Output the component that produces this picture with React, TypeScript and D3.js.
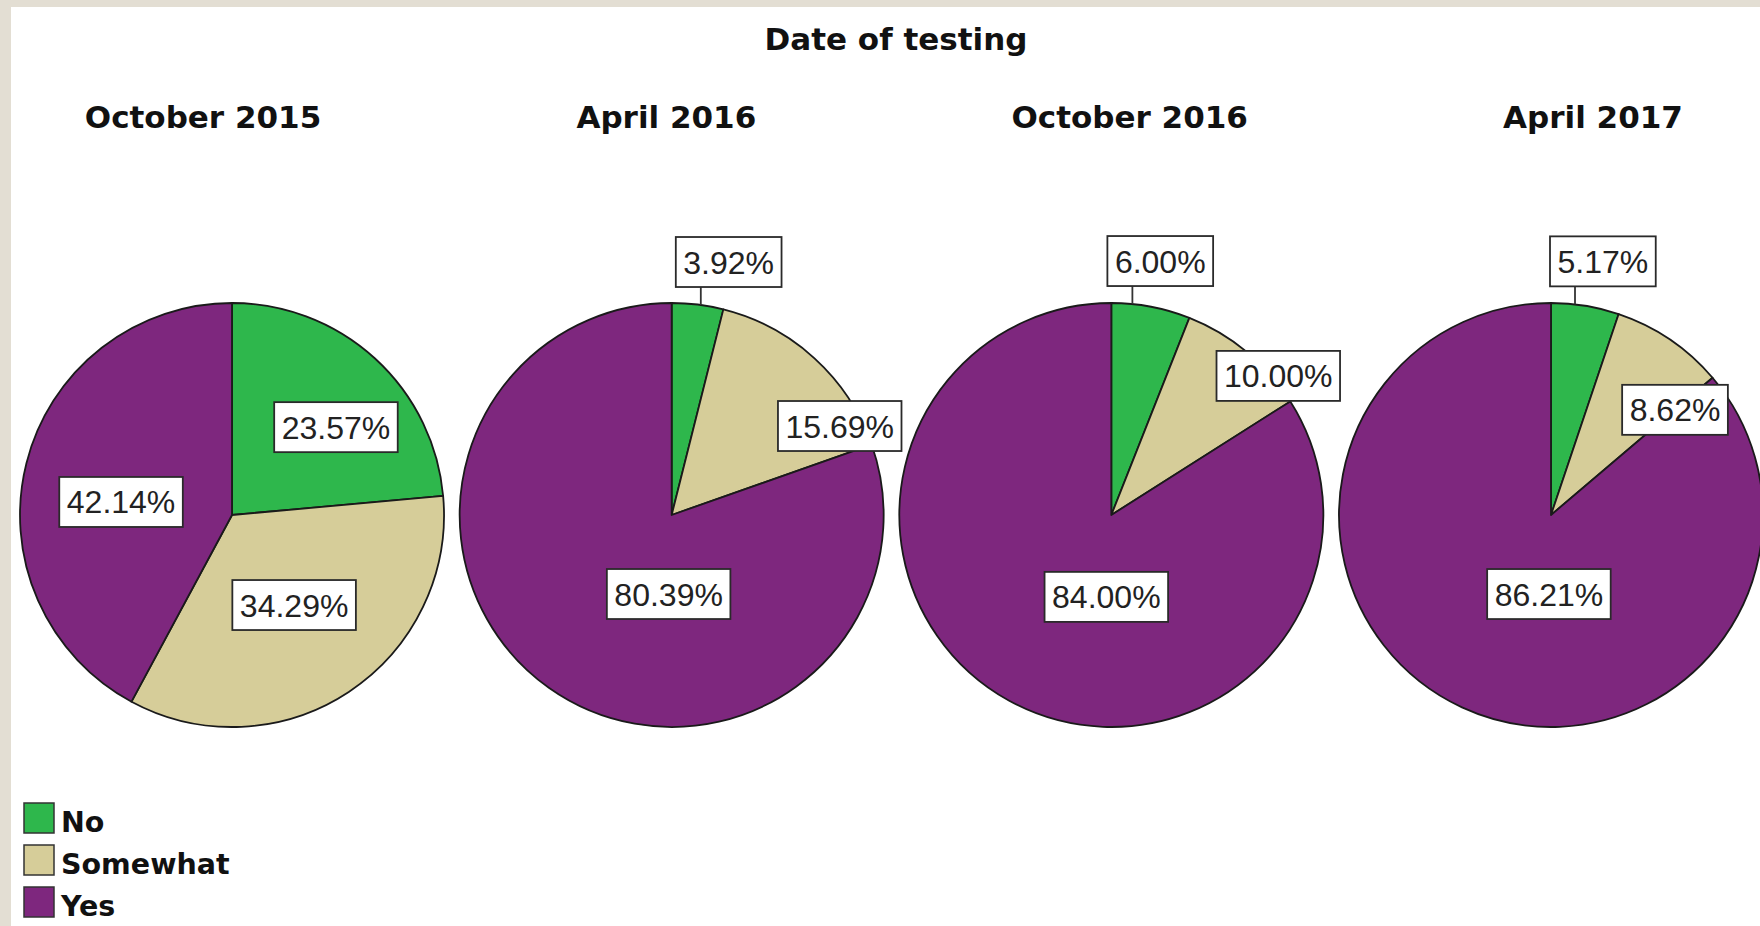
import React, { useEffect, useRef } from "react";
import * as d3 from "d3";

const dates = ["October 2015", "April 2016", "October 2016", "April 2017"];
const categories = ["No", "Somewhat", "Yes"];
const noValues = [23.57, 3.92, 6.0, 5.17];
const somewhatValues = [34.29, 15.69, 10.0, 8.62];
const yesValues = [42.14, 80.39, 84.0, 86.21];
const chartTitle = "Date of testing";

const colors = ["#2EB74C", "#D6CD99", "#7E277E"];

// label placement (polar: angle from 12 o'clock clockwise in degrees, radius fraction)
type Place = { a: number; r: number; outside?: boolean };
const labelPlacement: Place[][] = [
  [{ a: 49.8, r: 0.642 }, { a: 145.4, r: 0.516 }, { a: 276.7, r: 0.527 }],
  [{ a: 7.9, r: 1, outside: true }, { a: 62.1, r: 0.897 }, { a: 182.2, r: 0.373 }],
  [{ a: 5.7, r: 1, outside: true }, { a: 50.2, r: 1.025 }, { a: 183.5, r: 0.387 }],
  [{ a: 6.5, r: 1, outside: true }, { a: 49.7, r: 0.767 }, { a: 181.5, r: 0.373 }],
];

const W = 1760;
const H = 926;

export default function App() {
  const ref = useRef<SVGSVGElement | null>(null);

  useEffect(() => {
    const svg = d3.select(ref.current);
    svg.selectAll("*").remove();

    svg.append("rect").attr("x", 0).attr("y", 0).attr("width", W).attr("height", H).attr("fill", "#E3DED3");
    svg.append("rect").attr("x", 11).attr("y", 7).attr("width", W - 11).attr("height", H - 7).attr("fill", "#ffffff");

    const pieX = d3.scalePoint<string>().domain(dates).range([232, 1551]);
    const titleX = d3.scalePoint<string>().domain(dates).range([203, 1593]);
    const cy = 515;
    const R = 212;

    svg
      .append("text")
      .attr("x", 896)
      .attr("y", 50)
      .attr("text-anchor", "middle")
      .attr("font-family", "DejaVu Sans")
      .attr("font-weight", "bold")
      .attr("font-size", 31)
      .attr("fill", "#111")
      .text(chartTitle);

    const pie = d3
      .pie<number>()
      .sort(null)
      .value((d) => d)
      .startAngle(0)
      .endAngle(2 * Math.PI);
    const arc = d3.arc<d3.PieArcDatum<number>>().innerRadius(0).outerRadius(R);
    const color = d3.scaleOrdinal<string, string>().domain(categories).range(colors);

    dates.forEach((date, i) => {
      const vals = [noValues[i], somewhatValues[i], yesValues[i]];
      const cx = pieX(date)!;

      svg
        .append("text")
        .attr("x", titleX(date)!)
        .attr("y", 128)
        .attr("text-anchor", "middle")
        .attr("font-family", "DejaVu Sans")
        .attr("font-weight", "bold")
        .attr("font-size", 31)
        .attr("fill", "#111")
        .text(date);

      const g = svg.append("g").attr("transform", `translate(${cx},${cy})`);
      const arcs = pie(vals);
      g.selectAll("path")
        .data(arcs)
        .enter()
        .append("path")
        .attr("d", arc)
        .attr("fill", (_d, j) => color(categories[j]))
        .attr("stroke", "#1a1a1a")
        .attr("stroke-width", 1.8)
        .attr("stroke-linejoin", "round");

      arcs.forEach((_a, j) => {
        const p = labelPlacement[i][j];
        const ang = (p.a * Math.PI) / 180;
        const label = d3.format(".2f")(vals[j]) + "%";
        const lg = g.append("g");
        const txt = lg
          .append("text")
          .attr("font-family", "Liberation Sans, Arial")
          .attr("font-size", 32)
          .attr("fill", "#222")
          .attr("text-anchor", "middle")
          .text(label);
        const node = txt.node() as SVGTextElement;
        const tw = node.getComputedTextLength();
        const bw = tw + 15;
        const bh = 50;
        let lx: number, ly: number;
        if (p.outside) {
          const ex = Math.sin(ang) * R;
          const ey = -Math.cos(ang) * R;
          const boxBottom = ey - 18;
          lx = ex - 25 + bw / 2;
          ly = boxBottom - bh / 2;
          lg.insert("line", "text")
            .attr("x1", ex)
            .attr("x2", ex)
            .attr("y1", ey)
            .attr("y2", boxBottom)
            .attr("stroke", "#333")
            .attr("stroke-width", 1.8);
        } else {
          lx = Math.sin(ang) * R * p.r;
          ly = -Math.cos(ang) * R * p.r;
        }
        lg.insert("rect", "text")
          .attr("x", lx - bw / 2)
          .attr("y", ly - bh / 2)
          .attr("width", bw)
          .attr("height", bh)
          .attr("fill", "#ffffff")
          .attr("stroke", "#2a2a2a")
          .attr("stroke-width", 1.8);
        txt.attr("x", lx).attr("y", ly + 11.5);
      });
    });

    const legend = svg.append("g");
    categories.forEach((c, k) => {
      const y = 803 + k * 42;
      legend
        .append("rect")
        .attr("x", 24)
        .attr("y", y)
        .attr("width", 30)
        .attr("height", 30)
        .attr("fill", color(c))
        .attr("stroke", "#333")
        .attr("stroke-width", 1.5);
      legend
        .append("text")
        .attr("x", 61)
        .attr("y", y + 29)
        .attr("font-family", "DejaVu Sans")
        .attr("font-weight", "bold")
        .attr("font-size", 28.5)
        .attr("fill", "#111")
        .text(c);
    });
  }, []);

  return (
    <svg
      ref={ref}
      width={W}
      height={H}
      style={{ position: "absolute", left: 0, top: 0, display: "block" }}
    />
  );
}
